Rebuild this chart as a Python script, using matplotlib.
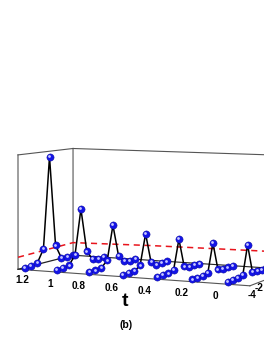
import numpy as np
import matplotlib
matplotlib.use("Agg")
import matplotlib.pyplot as plt

plt.rcParams['font.family'] = ['Liberation Sans', 'DejaVu Sans']

# ---- data ----
t_rows = [1.0, 0.8, 0.6, 0.4, 0.2, 0.0, -0.2]
x_sites = [-4, -3, -2, -1, 0, 1, 2, 3, 4]
amp_t100 = [0.0, 0.0, 0.01, 0.125, 0.95, 0.13, 0.0, 0.0, 0.0]
amp_t080 = [0.0, 0.0, 0.01, 0.09, 0.49, 0.095, 0.01, 0.0, 0.0]
amp_t060 = [0.0, 0.0, 0.01, 0.06, 0.36, 0.07, 0.01, 0.0, 0.0]
amp_t040 = [0.0, 0.0, 0.0, 0.035, 0.30, 0.035, 0.0, 0.0, 0.0]
amp_t020 = [0.0, 0.0, 0.0, 0.015, 0.27, 0.018, 0.0, 0.0, 0.0]
amp_t000 = [0.0, 0.0, 0.0, 0.01, 0.255, 0.01, 0.0, 0.0, 0.0]
amp_tm20 = [0.0, 0.0, 0.0, 0.01, 0.255, 0.01, 0.0, 0.0, 0.0]
amps = [amp_t100, amp_t080, amp_t060, amp_t040, amp_t020, amp_t000, amp_tm20]

t_ticks = ['1.2', '1', '0.8', '0.6', '0.4', '0.2', '0', '-4', '-2']
red_t = [1.0, 1.0, 0.5, -0.35]
red_x = [-5, 4, 4, 4]
red_z = [0.105, 0.118, 0.135, 0.15]

# ---- view: camera fitted to the box corners and row ends ----
cal = [(1, -5, 0, 18, 269), (1, -5, 1, 18, 155), (1, 4, 1, 73, 149), (1, 4, 0, 73, 254.5),
       (-0.2, -4, 0, 228.3, 282), (-0.2, 4, 0, 266, 268.5), (-0.35, -5, 0, 249, 285),
       (-0.2, 4, 1, 266, 154), (0.4, 4, 0, 167.3, 261.7), (0.4, 4, 1, 167, 151.5),
       (0.4, -4, 0, 123, 274.7), (1, -4, 0, 24.3, 267.7), (-0.2, -4, 0.255, 228.3, 252)]
A = []
for t, x, z, u, v in cal:
    A.append([t, x, z, 1, 0, 0, 0, 0, -u*t, -u*x, -u*z, -u])
    A.append([0, 0, 0, 0, t, x, z, 1, -v*t, -v*x, -v*z, -v])
P = np.linalg.svd(np.array(A))[2][-1].reshape(3, 4)


def proj(t, x, z):
    h = P @ np.vstack([t, x, z, np.ones_like(np.asarray(t, float))])
    return h[0]/h[2], h[1]/h[2]


fig = plt.figure(figsize=(2.64, 3.41), dpi=100)
ax = fig.add_axes([0, 0, 1, 1])
ax.set_xlim(0, 264)
ax.set_ylim(341, 0)
ax.axis('off')


def seg(p, q, **kw):
    u, v = proj(np.array([p[0], q[0]], float), np.array([p[1], q[1]], float), np.array([p[2], q[2]], float))
    ax.plot(u, v, **kw)


box = dict(color='#555555', lw=0.8, zorder=1)
tf, tb = 1.0, -0.6
tc = -0.35
seg((tf, -5, 0), (tf, -5, 1), **box)
seg((tf, -5, 1), (tf, 4, 1), **box)
seg((tf, 4, 0), (tf, 4, 1), **box)
seg((tf, 4, 1), (tb, 4, 1), **box)
seg((tf, -5, 0), (tc, -5, 0), **box)
seg((tc, -5, 0), (tc, 4, 0), **box)
seg((tf, -5, 0), (tf, 4, 0), color='#222222', lw=0.9, zorder=1)
seg((tf, 4, 0), (tb, 4, 0), color='#222222', lw=0.8, zorder=1)

ru, rv = proj(np.array(red_t, float), np.array(red_x, float), np.array(red_z, float))
ax.plot(ru, rv, color='#e8141c', lw=1.1, ls=(0, (4, 3)), zorder=2)

for i, (t, a) in enumerate(zip(t_rows, amps)):
    u, v = proj(np.full(len(x_sites), t), np.array(x_sites, float), np.array(a))
    ax.plot(u, v, color='black', lw=1.1, zorder=3+i)
    ax.scatter(u, v, s=27, color='#1414e6', edgecolors='#0a0a90', linewidths=0.3, zorder=3.2+i)
    ax.scatter(u-0.5, v-0.8, s=4, color='#c8c8ff', linewidths=0, zorder=3.4+i)

tick_u = [22, 50, 79, 112, 145, 182, 215, 252, 263.5]
tick_v = [280, 284, 286, 288, 291, 293, 296, 295, 288]
tick_ha = ['center'] * 8 + ['right']
for s, u, v, ha in zip(t_ticks, tick_u, tick_v, tick_ha):
    ax.text(u, v, s, fontsize=7.2, fontweight='bold', ha=ha, va='center', clip_on=False)
ax.text(125, 301, 't', fontsize=14, fontweight='bold', ha='center', va='center')
ax.text(126, 325, '(b)', fontsize=7.5, fontweight='bold', ha='center', va='center')

fig.savefig('out.png', dpi=100)
